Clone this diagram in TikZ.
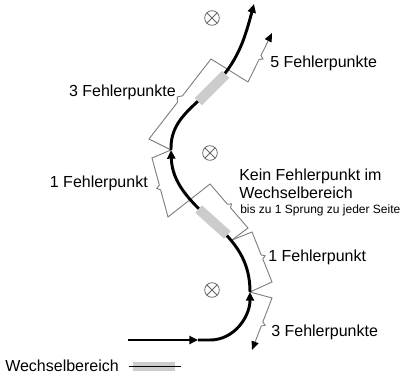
\documentclass[tikz,border=0pt]{standalone}
\usepackage{fontspec}
\setmainfont{Liberation Sans}
\usetikzlibrary{positioning,calc,arrows.meta}

\begin{document}
\begin{tikzpicture}[x=0.75pt,y=0.75pt,
        track/.style={line width=2.2pt},
        tip/.style={-{Triangle[length=6.5pt,width=6pt]}},
        gtip/.style={-{Triangle[length=6.5pt,width=5.5pt,color=black]}},
        bracket/.style={draw=black!50,line width=0.7pt},
        notch/.style={to path={-- ($(\tikztostart)!0.46!(\tikztotarget)$) -- ($(\tikztostart)!0.5!(\tikztotarget)!2.5pt!#1:(\tikztotarget)$) -- ($(\tikztostart)!0.54!(\tikztotarget)$) -- (\tikztotarget)}},
        wbox/.style={fill=black!20,minimum width=29pt,minimum height=7.5pt,inner sep=0pt},
        xring/.style={circle,draw=black!60,line width=0.6pt,minimum size=11pt,inner sep=0pt,
            path picture={\draw[black!60,line width=0.6pt] (path picture bounding box.north west) -- (path picture bounding box.south east) (path picture bounding box.north east) -- (path picture bounding box.south west);}},
        lbl/.style={font=\fontsize{12}{14}\selectfont,inner sep=0pt},
        note/.style={font=\fontsize{9}{11}\selectfont,inner sep=0pt}
    ]
    \useasboundingbox (0,0) rectangle (406,380);

    % points on the track
    \coordinate (s0) at (128,40);
    \coordinate (a0) at (198,40);
    \coordinate (s1) at (210,40);
    \coordinate (j1) at (250,88);
    \coordinate (k) at (232,140);
    \coordinate (m1) at (213,158);
    \coordinate (j2) at (171,230);
    \coordinate (m2) at (212,292);
    \coordinate (top) at (254,376);

    % brackets
    \coordinate (a1) at (149,241); \coordinate (a2) at (211,321);
    \coordinate (b1) at (248,298); \coordinate (b2) at (272,347);
    \coordinate (c1) at (152,222); \coordinate (c2) at (168,163);
    \coordinate (d1) at (210,196); \coordinate (d2) at (248,152);
    \coordinate (e1) at (252,148); \coordinate (e2) at (272,98);
    \coordinate (f1) at (272,82);  \coordinate (f2) at (252,30);

    \draw[bracket] (j2) -- (a1) to[notch=90] (a2) -- (b1);
    \draw[bracket,gtip] (b1) to[notch=-90] (b2);
    \draw[bracket] (j2) -- (c1) to[notch=-90] (c2) -- (d1) to[notch=90] (d2) -- (k);
    \draw[bracket] (k) -- (e1) to[notch=90] (e2) -- (j1);
    \draw[bracket,gtip] (j1) -- (f1) to[notch=90] (f2);

    % track
    \draw[track,tip] (s0) -- (a0);
    \draw[track,tip] (a0) -- (s1) to[out=0,in=-90] (j1);
    \draw[track,tip] (j1) to[out=90,in=-42] (m1) to[out=138,in=-88] (j2);
    \draw[track,tip] (j2) to[out=92,in=225] (m2) to[out=45,in=-105] (top);

    \node[wbox,rotate=-42] (w1) at (m1) {};
    \node[wbox,rotate=45] (w2) at (m2) {};

    \node[xring] (r1) at (212,362) {};
    \node[xring] (r2) at (210,227) {};
    \node[xring] (r3) at (212,90) {};

    \node[lbl,anchor=base east] (t3a) at (176,284) {3 Fehlerpunkte};
    \node[lbl,anchor=base west] (t5) at (270,313) {5 Fehlerpunkte};
    \node[lbl,anchor=base east] (t1a) at (148,193) {1 Fehlerpunkt};
    \node[lbl,anchor=base west] (kein) at (239,200) {Kein Fehlerpunkt im};
    \node[lbl,anchor=base west] (wech) at (239,182) {Wechselbereich};
    \node[note,anchor=base west] (sprung) at (240,167) {bis zu 1 Sprung zu jeder Seite};
    \node[lbl,anchor=base west] (t1b) at (268,119) {1 Fehlerpunkt};
    \node[lbl,anchor=base west] (t3b) at (271,44) {3 Fehlerpunkte};

    \node[lbl,anchor=base west] (leg) at (5,9) {Wechselbereich};
    \node[wbox,minimum width=31.5pt,minimum height=6.75pt,anchor=west] (legbar) at (133,14) {};
    \draw[line width=0.75pt] ([xshift=-3pt]legbar.west) -- ([xshift=3.75pt]legbar.east);
\end{tikzpicture}
\end{document}
